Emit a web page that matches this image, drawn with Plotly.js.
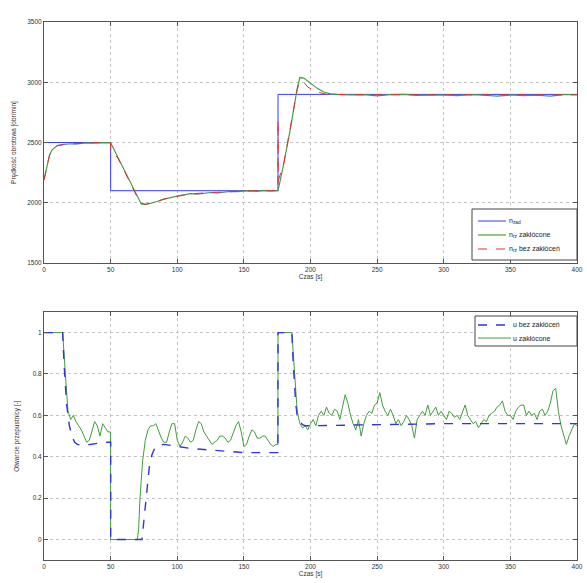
<!DOCTYPE html>
<html>
<head>
<meta charset="utf-8">
<script src="https://cdn.plot.ly/plotly-3.0.1.min.js"></script>
<style>html,body{margin:0;padding:0;background:#fff}#chart{width:587px;height:583px}</style>
</head>
<body>
<div id="chart"></div>
<script>
// ---- top plot: rotational speed ----
const tZad = [0, 50, 50, 175.6, 175.6, 400];
const nZad = [2500, 2500, 2100, 2100, 2900, 2900];

const tRzZ = [0,2,4,6,8,10,15,20,25,30,35,40,45,50,55,60,65,70,73,76,80,85,90,95,100,105,110,115,120,125,130,135,140,145,150,155,160,165,170,175,175.6,180,185,190,192,195,200,205,210,215,220,230,240,250,260,270,280,290,300,310,320,330,340,350,360,370,380,390,395,400];
const nRzZ = [2190,2300,2390,2440,2460,2475,2485,2490,2488,2495,2495,2500,2500,2498,2386,2273,2160,2045,1990,1985,1995,2010,2030,2045,2055,2065,2075,2072,2080,2085,2082,2090,2095,2092,2098,2100,2095,2102,2098,2100,2100,2330,2620,2950,3040,3035,2990,2950,2920,2905,2900,2895,2898,2888,2898,2900,2892,2896,2895,2890,2898,2893,2885,2895,2890,2893,2886,2898,2900,2897];

const tRzB = [0,2,4,6,8,10,15,20,25,30,40,50,50.05,55,60,65,70,73,76,80,90,100,110,120,130,140,150,160,170,175.5,175.6,175.7,180,185,190,192,195,198,205,212,220,250,300,350,400];
const nRzB = [2190,2300,2390,2440,2460,2475,2485,2490,2492,2495,2498,2500,2410,2380,2270,2160,2045,1995,1988,1995,2030,2055,2072,2082,2088,2093,2097,2099,2100,2100,2690,2180,2330,2620,2940,3010,3000,2960,2920,2900,2898,2897,2896,2896,2896];

// ---- bottom plot: throttle opening ----
const tUB = [0,14,15,17,19,21,23,25,30,35,40,45,50,50.01,73.5,75,77,79,81,83,85,90,95,100,110,120,130,140,150,160,170,175.5,175.6,186,187,188,189,190,192,194,196,200,250,300,350,400];
const uB  = [1,1,0.85,0.65,0.55,0.5,0.47,0.46,0.455,0.46,0.465,0.47,0.47,0,0,0.1,0.25,0.35,0.41,0.44,0.455,0.46,0.455,0.45,0.44,0.435,0.43,0.425,0.42,0.42,0.42,0.42,1,1,0.85,0.72,0.65,0.6,0.57,0.555,0.55,0.55,0.555,0.56,0.56,0.56];

const tUZ = [0,14,16,18,20,22,24,26,28,30,32,34,36,38,40,42,44,46,48,50,50.01,70,71,72,74,76,78,80,82,84,86,88,90,92,94,96,98,100,102,104,106,108,110,112,114,116,118,120,122,124,126,128,130,132,134,136,138,140,142,144,146,148,150,152,154,156,158,160,162,164,166,168,170,172,174,175.5,175.6,186,188,190,192,194,196,198,200,202,204,206,208,210,212,214,216,218,220,222,224,226,228,230,232,234,236,238,240,242,244,246,248,250,252,254,256,258,260,262,264,266,268,270,272,274,276,278,280,282,284,286,288,290,292,294,296,298,300,302,304,306,308,310,312,314,316,318,320,322,324,326,328,330,332,334,336,338,340,342,344,346,348,350,352,354,356,358,360,362,364,366,368,370,372,374,376,378,380,382,384,386,388,390,392,394,396,398,400];
const uZ  = [1,1,0.8,0.62,0.58,0.6,0.57,0.55,0.53,0.5,0.47,0.48,0.52,0.57,0.55,0.5,0.56,0.54,0.52,0.52,0,0,0.05,0.2,0.38,0.48,0.53,0.55,0.55,0.56,0.52,0.49,0.47,0.47,0.52,0.56,0.56,0.48,0.45,0.47,0.5,0.49,0.47,0.48,0.53,0.57,0.56,0.52,0.5,0.48,0.46,0.47,0.48,0.5,0.5,0.49,0.47,0.48,0.52,0.55,0.57,0.52,0.45,0.46,0.5,0.53,0.52,0.49,0.49,0.5,0.5,0.48,0.46,0.45,0.46,0.46,1,1,0.78,0.62,0.56,0.54,0.55,0.53,0.56,0.58,0.55,0.6,0.62,0.6,0.64,0.61,0.6,0.63,0.62,0.58,0.64,0.7,0.66,0.6,0.56,0.53,0.58,0.5,0.56,0.6,0.62,0.61,0.65,0.66,0.71,0.65,0.62,0.6,0.63,0.6,0.56,0.58,0.55,0.57,0.6,0.58,0.55,0.49,0.58,0.6,0.62,0.6,0.65,0.6,0.62,0.64,0.6,0.62,0.6,0.58,0.62,0.61,0.59,0.6,0.58,0.62,0.65,0.6,0.58,0.56,0.57,0.54,0.56,0.58,0.57,0.6,0.61,0.62,0.64,0.65,0.67,0.62,0.6,0.6,0.58,0.62,0.64,0.65,0.65,0.6,0.62,0.6,0.61,0.58,0.62,0.63,0.6,0.62,0.66,0.72,0.73,0.62,0.55,0.5,0.46,0.5,0.53,0.56,0.55];

const xTicks = [0,50,100,150,200,250,300,350,400];
const yTopTicks = [1500,2000,2500,3000,3500];
const yBotTicks = [0,0.2,0.4,0.6,0.8,1];

const FONT = 'Liberation Sans, Arial, sans-serif';
const C_ZAD = '#3b3bf0', C_RZZ = '#4a9a44', C_RZB = '#e0303a', C_UZ = '#3f9e3a', C_UB = '#3535d0';

const traces = [
  {x: tZad, y: nZad, name: 'n<sub>zad</sub>', mode: 'lines', line: {color: C_ZAD, width: 1}, xaxis: 'x', yaxis: 'y'},
  {x: tRzZ, y: nRzZ, name: 'n<sub>rz</sub> zakłócone', mode: 'lines', line: {color: C_RZZ, width: 1.2}, xaxis: 'x', yaxis: 'y'},
  {x: tRzB, y: nRzB, name: 'n<sub>rz</sub> bez zakłóceń', mode: 'lines', line: {color: C_RZB, width: 1, dash: 'dash'}, xaxis: 'x', yaxis: 'y'},
  {x: tUZ, y: uZ, name: 'u zakłócone', mode: 'lines', line: {color: C_UZ, width: 1}, xaxis: 'x2', yaxis: 'y2'},
  {x: tUB, y: uB, name: 'u bez zakłóceń', mode: 'lines', line: {color: C_UB, width: 1.4, dash: 'dash'}, xaxis: 'x2', yaxis: 'y2'}
];

const axCommon = {
  showline: true, mirror: 'ticks', linecolor: '#555', linewidth: 1,
  ticks: 'inside', ticklen: 4, tickcolor: '#555',
  showgrid: true, gridcolor: '#c4c4c4', griddash: 'dot', gridwidth: 1,
  zeroline: false, tickfont: {size: 6.5, color: '#333', family: FONT}
};

// custom compact legends (pixel helpers -> paper coords)
const W = 587, H = 583;
const px = v => v / W, py = v => 1 - v / H;
const shapes = [], annotations = [];
function legendBox(x0, y0, x1, y1, items) {
  shapes.push({type: 'rect', xref: 'paper', yref: 'paper', x0: px(x0), x1: px(x1), y0: py(y0), y1: py(y1),
    line: {color: '#444', width: 1}, fillcolor: '#fff', layer: 'above'});
  items.forEach(it => {
    shapes.push({type: 'line', xref: 'paper', yref: 'paper', x0: px(it.lx0), x1: px(it.lx1), y0: py(it.y), y1: py(it.y),
      line: {color: it.color, width: it.width, dash: it.dash || 'solid'}, layer: 'above'});
    annotations.push({xref: 'paper', yref: 'paper', x: px(it.tx), y: py(it.y), xanchor: 'left', yanchor: 'middle',
      text: it.text, showarrow: false, font: {size: 7, family: FONT, color: '#222'}});
  });
}
legendBox(472, 209, 577, 260, [
  {y: 221, lx0: 478, lx1: 506, tx: 507, color: C_ZAD, width: 1, text: 'n<sub>zad</sub>'},
  {y: 235, lx0: 478, lx1: 506, tx: 507, color: C_RZZ, width: 1.2, text: 'n<sub>rz</sub> zakłócone'},
  {y: 249, lx0: 478, lx1: 506, tx: 507, color: C_RZB, width: 1, dash: 'dash', text: 'n<sub>rz</sub> bez zakłóceń'}
]);
legendBox(475, 316, 577, 346, [
  {y: 325, lx0: 478, lx1: 511, tx: 511, color: C_UB, width: 1.4, dash: 'dash', text: 'u bez zakłóceń'},
  {y: 338, lx0: 478, lx1: 511, tx: 511, color: C_UZ, width: 1, text: 'u zakłócone'}
]);

const layout = {
  width: W, height: H,
  margin: {l: 0, r: 0, t: 0, b: 0},
  paper_bgcolor: '#fff', plot_bgcolor: '#fff',
  font: {family: FONT, size: 7, color: '#333'},
  showlegend: false,
  xaxis: Object.assign({}, axCommon, {domain: [0.075, 0.983], anchor: 'y', range: [0, 400], tickvals: xTicks,
    title: {text: 'Czas [s]', font: {size: 6.5}, standoff: 1}}),
  yaxis: Object.assign({}, axCommon, {domain: [0.549, 0.962], anchor: 'x', range: [1500, 3500], tickvals: yTopTicks,
    title: {text: 'Prędkość obrotowa [obr/min]', font: {size: 6.5}, standoff: 9}}),
  xaxis2: Object.assign({}, axCommon, {domain: [0.075, 0.983], anchor: 'y2', range: [0, 400], tickvals: xTicks,
    title: {text: 'Czas [s]', font: {size: 6.5}, standoff: 1}}),
  yaxis2: Object.assign({}, axCommon, {domain: [0.039, 0.465], anchor: 'x2', range: [-0.1, 1.1], tickvals: yBotTicks,
    title: {text: 'Otwarcie przepustnicy [-]', font: {size: 6.5}, standoff: 12}}),
  shapes: shapes,
  annotations: annotations
};

Plotly.newPlot('chart', traces, layout, {displayModeBar: false, staticPlot: true});
</script>
</body>
</html>
